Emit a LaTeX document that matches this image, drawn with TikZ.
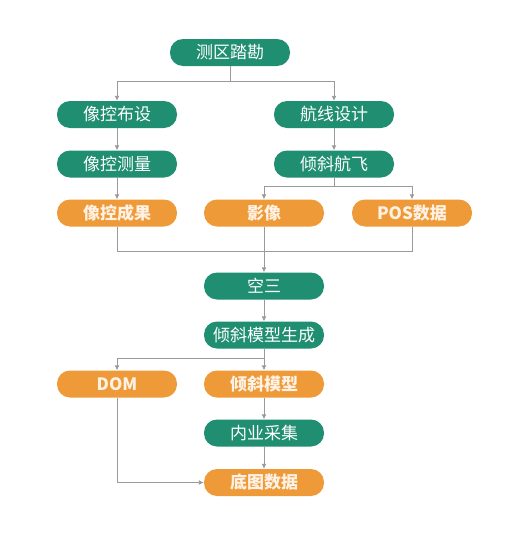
\documentclass[tikz,border=0pt]{standalone}
\usepackage{fontspec}
\newfontfamily\cjk{Noto Sans CJK SC}
\usetikzlibrary{arrows.meta}
\definecolor{stepgreen}{HTML}{1F8E71}
\definecolor{steporange}{HTML}{EE9A38}
\definecolor{linkgray}{HTML}{9A9A9A}

\begin{document}
\begin{tikzpicture}[x=1pt,y=-1pt,
  box/.style={rounded corners=13pt, minimum width=120pt, minimum height=27pt, inner sep=0pt, font=\cjk\fontsize{17}{17}\selectfont, text=white},
  gbox/.style={box, fill=stepgreen},
  obox/.style={box, fill=steporange, text=white!90!orange, font=\cjk\bfseries\fontsize{17}{17}\selectfont},
  link/.style={linkgray, line width=0.9pt},
  arr/.style={link, -{Latex[length=5pt,width=5pt]}}]

\useasboundingbox (0,0) rectangle (529,536);

\node[gbox] (kc) at (230,52.5) {测区踏勘};
\node[gbox] (xkbs) at (117,114.5) {像控布设};
\node[gbox] (hxsj) at (334,114.5) {航线设计};
\node[gbox] (xkcl) at (117,164) {像控测量};
\node[gbox] (qxhf) at (334,164) {倾斜航飞};
\node[obox] (xkcg) at (117,213) {像控成果};
\node[obox] (yx) at (264,213) {影像};
\node[obox] (pos) at (412,213) {POS数据};
\node[gbox] (ks) at (264,286) {空三};
\node[gbox] (mxsc) at (264,335) {倾斜模型生成};
\node[obox] (dom) at (117,384) {DOM};
\node[obox] (qxmx) at (264,384) {倾斜模型};
\node[gbox] (nycj) at (264,433) {内业采集};
\node[obox] (dtsj) at (264,482.5) {底图数据};

\coordinate (b1) at (230,81);
\coordinate (b2) at (334,186);
\coordinate (b3) at (264,251);
\coordinate (b4) at (264,358);

\draw[link] (kc) -- (b1);
\draw[arr] (b1) -| (xkbs);
\draw[arr] (b1) -| (hxsj);
\draw[arr] (xkbs) -- (xkcl);
\draw[arr] (xkcl) -- (xkcg);
\draw[arr] (hxsj) -- (qxhf);
\draw[link] (qxhf) -- (b2);
\draw[arr] (b2) -| (yx);
\draw[arr] (b2) -| (pos);
\draw[link] (xkcg) |- (b3);
\draw[link] (pos) |- (b3);
\draw[link] (yx) -- (b3);
\draw[arr] (b3) -- (ks);
\draw[arr] (ks) -- (mxsc);
\draw[link] (mxsc) -- (b4);
\draw[arr] (b4) -| (dom);
\draw[arr] (b4) -- (qxmx);
\draw[arr] (qxmx) -- (nycj);
\draw[arr] (nycj) -- (dtsj);
\draw[arr] (dom) |- (dtsj);
\end{tikzpicture}
\end{document}
